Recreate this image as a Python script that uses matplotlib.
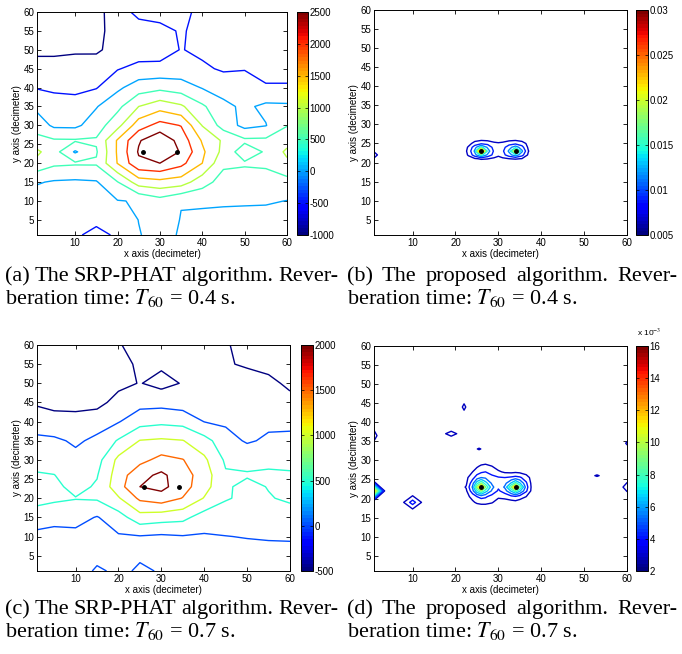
import numpy as np
import matplotlib
matplotlib.use('Agg')
import matplotlib.pyplot as plt
from matplotlib import colors
from matplotlib.cm import ScalarMappable

plt.rcParams['font.family'] = 'Liberation Sans'
plt.rcParams['mathtext.fontset'] = 'stix'

# source positions (decimeter)
src_x = [26, 34]
src_y = [23, 23]

# SRP-PHAT maps sampled on a coarse grid, rows from y=1 (bottom) to y=60 (top)
srp_x = [1, 5, 10, 15, 20, 25, 30, 35, 40, 45, 50, 55, 60]
srp_y = [1, 5, 10, 15, 20, 23, 26, 30, 35, 40, 45, 50, 55, 60]

srp_t04 = [
    [-400, -420, -450, -600, -450, -30, 200, -60, -200, -250, -250, -250, -250],
    [-350, -350, -380, -420, -350, 10, 250, -20, -150, -180, -200, -180, -150],
    [-250, -250, -250, -300, -20, 30, 300, 20, 100, 80, 70, 50, -10],
    [43, -50, -80, -40, 480, 1250, 1350, 1250, 700, 300, 250, 250, 330],
    [846, 600, 560, 560, 1520, 2400, 2500, 2150, 1500, 600, 560, 600, 900],
    [1100, 700, -60, 450, 1560, 2550, 2950, 2450, 1600, 850, 200, 560, 1100],
    [661, 560, 550, 560, 1550, 2450, 2900, 2300, 1450, 920, 600, 600, 800],
    [273, -93, -106, 250, 833, 1770, 2180, 1980, 980, 300, -150, -20, 480],
    [-120, -320, -350, -30, 360, 1000, 1300, 1080, 580, 130, -100, 110, 90],
    [-530, -570, -590, -530, -100, 250, 370, 250, -30, -210, -200, -470, -470],
    [-850, -850, -830, -790, -530, -350, -370, -320, -420, -560, -530, -600, -600],
    [-1080, -1080, -1050, -1060, -850, -760, -700, -480, -600, -700, -650, -600, -600],
    [-1200, -1200, -1200, -1100, -850, -750, -650, -450, -650, -700, -700, -700, -700],
    [-1300, -1300, -1250, -1150, -750, -350, -300, -350, -650, -700, -700, -700, -700],
]

srp_t07 = [
    [-300, -300, -280, 80, -100, 60, -30, -250, -250, -250, -250, -250, -250],
    [-250, -250, -250, -150, -200, -50, -200, -200, -200, -180, -170, -150, -150],
    [-150, -150, -150, -200, -50, -30, -80, -30, -50, -10, 20, 40, 50],
    [273, 140, 180, -30, 285, 800, 712, 640, 260, 250, 300, 300, 300],
    [650, 600, 520, 560, 950, 1600, 1770, 1480, 970, 540, 400, 470, 570],
    [700, 620, 350, 560, 1300, 2000, 2150, 1700, 1200, 560, 380, 520, 560],
    [540, 510, 300, 470, 1250, 1850, 2100, 1725, 1250, 560, 540, 560, 550],
    [352, 320, 150, 315, 1130, 1350, 1653, 1520, 1100, 420, 370, 410, 380],
    [114, 98, -80, 111, 550, 1020, 1073, 1020, 683, 200, -60, 80, 100],
    [-250, -370, -337, -217, -30, 312, 390, 333, -10, -80, -110, -100, -100],
    [-560, -600, -650, -650, -331, -170, -164, -240, -200, -180, -180, -220, -380],
    [-680, -720, -750, -800, -620, -480, -650, -470, -420, -350, -350, -400, -580],
    [-750, -800, -850, -900, -600, -450, -420, -400, -430, -470, -540, -620, -720],
    [-800, -850, -900, -950, -520, -400, -350, -350, -400, -460, -650, -700, -800],
]

# proposed algorithm, values in units of 1e-3, sampled around the two sources
prop04_x = [22, 23, 24.5, 26, 27.5, 29, 30, 31, 32.5, 34, 35.5, 37, 38]
prop04_y = [20, 21, 22, 23, 24, 25, 26, 27]
prop_t04 = [
    [5, 5, 5, 5, 5, 5, 5, 5, 5, 5, 5, 5, 5],
    [5, 5.4, 6.2, 6.8, 6.6, 6.0, 5.6, 6.0, 6.5, 6.7, 6.4, 5.4, 5],
    [5.3, 6.8, 10.5, 15, 11, 8.0, 7.0, 8.0, 10.5, 13, 10, 6.0, 5.3],
    [5.5, 7.2, 12, 29, 13, 8.5, 7.8, 8.5, 12, 22, 12, 6.6, 5.5],
    [5.3, 6.8, 10.5, 15, 11, 8.0, 7.5, 8.0, 10.5, 13, 10, 6.0, 5.3],
    [5, 5.5, 7.5, 8.5, 8.2, 7.0, 6.8, 7.0, 8.0, 8.4, 7.6, 5.8, 5],
    [5, 5, 5.6, 6.0, 5.8, 5.5, 5.3, 5.5, 5.8, 6.0, 5.6, 5, 5],
    [5, 5, 5, 5, 5, 5, 5, 5, 5, 5, 5, 5, 5],
]
base04 = 5
blob04_x = [1]
blob04_y = [22]
blob04_peak = [7.5]
blob04_dx = [2]
blob04_dy = [2]

prop07_x = [21, 22.5, 24, 25, 26, 27, 28.5, 30, 31.5, 33, 34, 35, 36.5, 38, 39]
prop07_y = [17.5, 19, 20.5, 22, 23, 24, 25.5, 27, 28.5, 30]
prop_t07 = [
    [2, 2, 2, 2, 2, 2, 2, 2, 2, 2, 2, 2, 2, 2, 2],
    [2, 2, 2.6, 3.0, 3.2, 3.2, 2.9, 2.3, 2.2, 2.3, 2.4, 2.2, 2, 2, 2],
    [2, 2.4, 3.2, 4.0, 4.4, 4.2, 3.5, 3.0, 3.2, 3.6, 3.8, 3.4, 2.8, 2.2, 2],
    [2.2, 2.6, 4.8, 7.2, 9.0, 7.0, 5.0, 3.8, 4.6, 6.6, 8.2, 6.6, 4.2, 2.2, 2],
    [2.3, 2.9, 5.4, 9.5, 13.5, 9.0, 5.6, 4.2, 5.4, 9.0, 13.0, 8.8, 4.6, 2.2, 2.1],
    [2.2, 2.6, 4.8, 7.2, 9.0, 7.0, 5.0, 4.3, 4.8, 6.6, 8.2, 6.6, 4.2, 2.2, 2],
    [2, 2.5, 3.6, 4.6, 5.2, 5.0, 4.4, 4.1, 4.0, 4.2, 4.4, 4.2, 3.4, 2.2, 2],
    [2, 2.2, 2.8, 3.4, 3.8, 4.0, 3.5, 3.0, 2.6, 2.5, 2.6, 2.5, 2.2, 2, 2],
    [2, 2, 2.2, 2.6, 3.0, 3.2, 2.8, 2.2, 2, 2, 2, 2, 2, 2, 2],
    [2, 2, 2, 2, 2, 2, 2, 2, 2, 2, 2, 2, 2, 2, 2],
]
base07 = 2
blob07_x = [1, 10, 19, 22, 25.5, 1, 53, 60, 60]
blob07_y = [22, 19, 37, 44, 33, 36.5, 26, 23, 34.5]
blob07_peak = [12, 4.6, 3.4, 3.2, 3.0, 3.5, 3.0, 3.5, 3.0]
blob07_dx = [2.7, 3, 3, 1.2, 2, 1.5, 2.5, 2, 1.5]
blob07_dy = [2.7, 2.5, 1.5, 2.5, 1, 3, 1, 2.5, 2]

# contour levels and colour ranges
levels_a = [-1000, -500, 0, 500, 1000, 1500, 2000, 2500]
levels_b = [6.5, 9, 11.5, 14, 16.5, 19, 21.5, 24, 26.5]
levels_c = [-500, 0, 500, 1000, 1500, 2000]
levels_d = [2.8, 4, 5.2, 6.4, 7.6, 8.8, 10, 11.2, 12.4]
ticks_a = [-1000, -500, 0, 500, 1000, 1500, 2000, 2500]
ticks_b = [5, 10, 15, 20, 25, 30]
ticks_c = [-500, 0, 500, 1000, 1500, 2000]
ticks_d = [2, 4, 6, 8, 10, 12, 14, 16]

captions = [
    ("(a) The SRP-PHAT algorithm. Rever-", "beration time: $T_{60}$ = 0.4 s."),
    ("(b) The proposed algorithm. Rever-", "beration time: $T_{60}$ = 0.4 s."),
    ("(c) The SRP-PHAT algorithm. Rever-", "beration time: $T_{60}$ = 0.7 s."),
    ("(d) The proposed algorithm. Rever-", "beration time: $T_{60}$ = 0.7 s."),
]

W, H = 682, 654
fig = plt.figure(figsize=(W / 100, H / 100), dpi=100)


def px_rect(left, top, right, bottom):
    return [left / W, 1 - bottom / H, (right - left) / W, (bottom - top) / H]


def blob_fields(bx, by, bp, bdx, bdy, base):
    out = []
    for x0, y0, p, dx, dy in zip(bx, by, bp, bdx, bdy):
        z = np.full((3, 3), float(base))
        z[1, 1] = p
        out.append(([x0 - dx, x0, x0 + dx], [y0 - dy, y0, y0 + dy], z))
    return out


def panel(rect, crect, fields, levels, vmin, vmax, cticks, cfmt):
    ax = fig.add_axes(rect)
    norm = colors.Normalize(vmin, vmax)
    for gx, gy, gz in fields:
        ax.contour(gx, gy, np.asarray(gz, float), levels=levels, cmap='jet',
                   norm=norm, linewidths=1.0)
    ax.plot(src_x, src_y, 'k.', ms=5)
    ax.set_xlim(1, 60)
    ax.set_ylim(1, 60)
    ax.set_xticks([10, 20, 30, 40, 50, 60])
    ax.set_yticks(range(5, 61, 5))
    ax.tick_params(direction='in', length=3, width=0.6, labelsize=7,
                   top=True, right=True, pad=2)
    for s in ax.spines.values():
        s.set_linewidth(0.7)
    ax.set_xlabel('x axis (decimeter)', fontsize=7, labelpad=1)
    ax.set_ylabel('y axis (decimeter)', fontsize=7, labelpad=1)

    cax = fig.add_axes(crect)
    sm = ScalarMappable(norm=norm, cmap=plt.get_cmap('jet', 64))
    cb = fig.colorbar(sm, cax=cax, ticks=cticks)
    cb.ax.set_yticklabels([cfmt(t) for t in cticks])
    cax.tick_params(direction='in', length=2, width=0.5, labelsize=7,
                    left=True, right=True, pad=1)
    cb.outline.set_linewidth(0.7)
    return ax, cax


# (a)
panel(px_rect(37, 12, 287, 235), px_rect(297, 12, 308, 235),
      [(srp_x, srp_y, srp_t04)], levels_a, -1000, 2500, ticks_a, lambda v: f'{v:g}')
# (b)
panel(px_rect(374, 10, 627, 235), px_rect(636, 10, 648, 235),
      [(prop04_x, prop04_y, prop_t04)] +
      blob_fields(blob04_x, blob04_y, blob04_peak, blob04_dx, blob04_dy, base04),
      levels_b, 5, 30, ticks_b, lambda v: f'{v / 1000:g}')
# (c)
panel(px_rect(37, 345, 290, 571), px_rect(301, 345, 313, 571),
      [(srp_x, srp_y, srp_t07)], levels_c, -500, 2000, ticks_c, lambda v: f'{v:g}')
# (d)
ax_d, cax_d = panel(px_rect(374, 346, 627, 571), px_rect(636, 346, 648, 571),
                    [(prop07_x, prop07_y, prop_t07)] +
                    blob_fields(blob07_x, blob07_y, blob07_peak, blob07_dx, blob07_dy, base07),
                    levels_d, 2, 16, ticks_d, lambda v: f'{v:g}')
cax_d.text(0.05, 1.035, r'x 10$^{-3}$', transform=cax_d.transAxes, fontsize=6,
           ha='left', va='bottom')

# captions, first line justified to the column width
renderer = fig.canvas.get_renderer()
cap_font = dict(family='Liberation Serif', size=16, va='baseline')


def justified(text, x0, x1, y):
    words = text.split()
    arts = [fig.text(0, y / H, w, **cap_font) for w in words]
    widths = [a.get_window_extent(renderer).width for a in arts]
    gap = (x1 - x0 - sum(widths)) / (len(words) - 1)
    pos = x0
    for a, w in zip(arts, widths):
        a.set_x(pos / W)
        pos += w + gap


cap_pos = [(5, 338, 281), (347, 677, 281), (5, 338, 614), (347, 677, 614)]
for (l1, l2), (x0, x1, yb) in zip(captions, cap_pos):
    justified(l1, x0, x1, H - yb)
    fig.text(x0 / W, 1 - (yb + 23) / H, l2, **cap_font)

fig.savefig('out.png', dpi=100)
